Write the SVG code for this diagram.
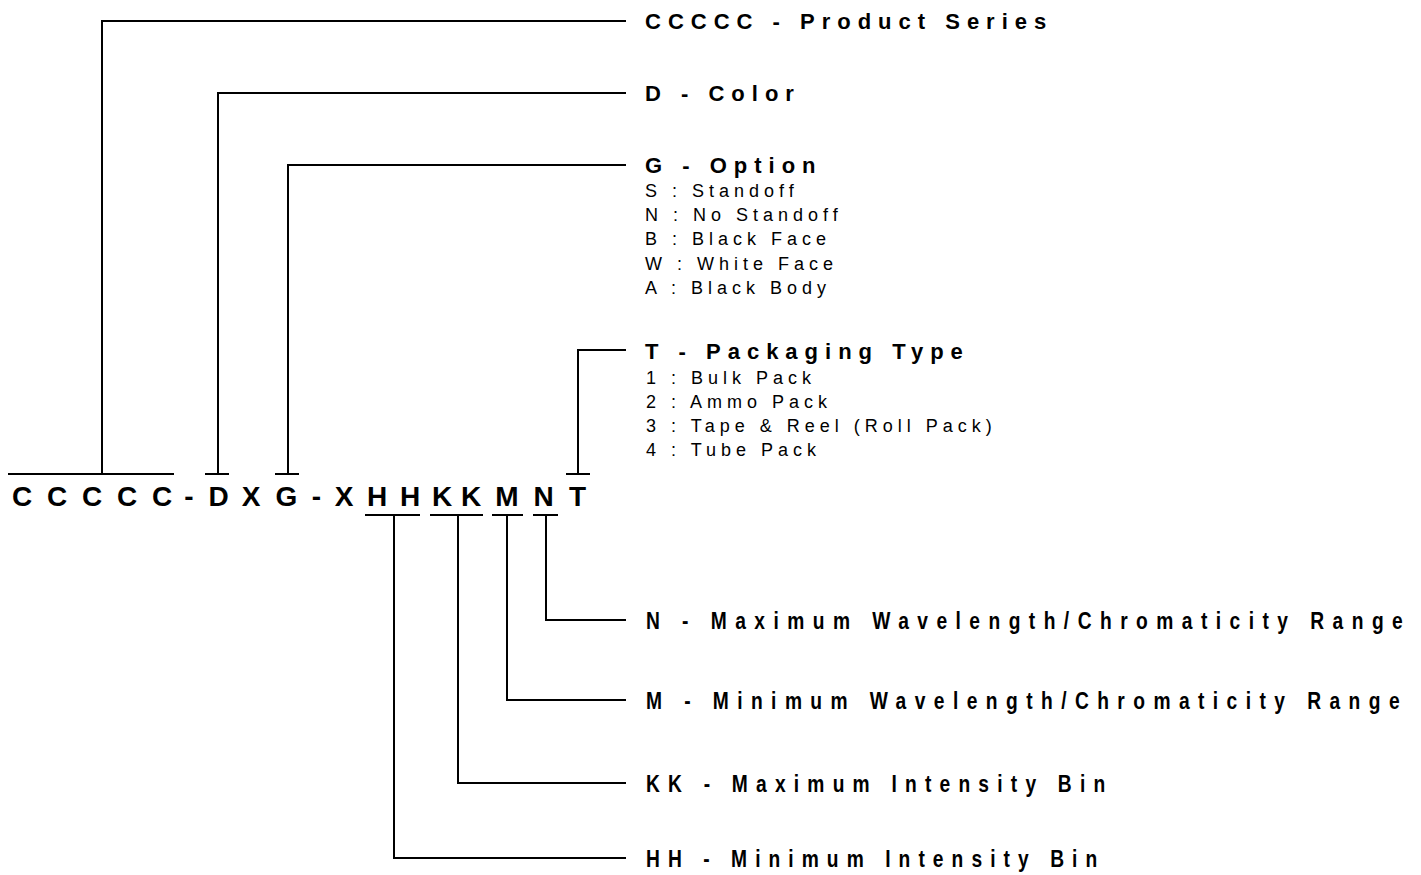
<svg xmlns="http://www.w3.org/2000/svg" width="1421" height="875" viewBox="0 0 1421 875">
<style>
.ln{fill:none;stroke:#000;stroke-width:2}
.pn{font-family:"Liberation Sans",Arial,sans-serif;font-weight:bold;font-size:28px;fill:#000;text-anchor:middle}
.hd{font-family:"Liberation Sans",Arial,sans-serif;font-weight:bold;font-size:22px;fill:#000;letter-spacing:7px}
.it{font-family:"Liberation Sans",Arial,sans-serif;font-size:18px;fill:#000;letter-spacing:5px}
.cd{font-family:"Liberation Sans",Arial,sans-serif;font-weight:bold;font-size:24px;fill:#000}
</style>
<rect width="1421" height="875" fill="#fff"/>
<g id="part-number">
<text class="pn" y="506"><tspan x="22">C</tspan><tspan x="57">C</tspan><tspan x="92">C</tspan><tspan x="127">C</tspan><tspan x="162">C</tspan><tspan x="189">-</tspan><tspan x="218.5">D</tspan><tspan x="251">X</tspan><tspan x="286.5">G</tspan><tspan x="316.5">-</tspan><tspan x="344">X</tspan><tspan x="377">H</tspan><tspan x="410">H</tspan><tspan x="442">K</tspan><tspan x="471">K</tspan><tspan x="507">M</tspan><tspan x="543.5">N</tspan><tspan x="577.5">T</tspan></text>
</g>
<g id="connectors">
<path class="ln" d="M8 474H174M102 474V21H626"/>
<path class="ln" d="M205 474H229M218 474V93H626"/>
<path class="ln" d="M275 474H299M288 474V165H626"/>
<path class="ln" d="M566 474H590M578 474V350H626"/>
<path class="ln" d="M365 515H420M394 515V858H626"/>
<path class="ln" d="M430 515H483M458 515V783H626"/>
<path class="ln" d="M492 515H523M507 515V700H626"/>
<path class="ln" d="M533 515H558M546 515V620H626"/>
</g>
<g id="label-series"><text class="hd" x="645" y="29">CCCCC - Product Series</text></g>
<g id="label-color"><text class="hd" x="645" y="101">D - Color</text></g>
<g id="label-option">
<text class="hd" x="645" y="173">G - Option</text>
<text class="it" x="645" y="197">S : Standoff</text>
<text class="it" x="645" y="221">N : No Standoff</text>
<text class="it" x="645" y="245">B : Black Face</text>
<text class="it" x="645" y="270">W : White Face</text>
<text class="it" x="645" y="294">A : Black Body</text>
</g>
<g id="label-packaging">
<text class="hd" x="645" y="359">T - Packaging Type</text>
<text class="it" x="646" y="384">1 : Bulk Pack</text>
<text class="it" x="646" y="408">2 : Ammo Pack</text>
<text class="it" x="646" y="432">3 : Tape &amp; Reel (Roll Pack)</text>
<text class="it" x="646" y="456">4 : Tube Pack</text>
</g>
<g id="label-n"><text class="cd" transform="translate(646 629) scale(0.8 1)" x="0" y="0" textLength="946" lengthAdjust="spacing">N - Maximum Wavelength/Chromaticity Range</text></g>
<g id="label-m"><text class="cd" transform="translate(646 709) scale(0.8 1)" x="0" y="0" textLength="942" lengthAdjust="spacing">M - Minimum Wavelength/Chromaticity Range</text></g>
<g id="label-kk"><text class="cd" transform="translate(646 792) scale(0.8 1)" x="0" y="0" textLength="574" lengthAdjust="spacing">KK - Maximum Intensity Bin</text></g>
<g id="label-hh"><text class="cd" transform="translate(646 867) scale(0.8 1)" x="0" y="0" textLength="564" lengthAdjust="spacing">HH - Minimum Intensity Bin</text></g>
</svg>
